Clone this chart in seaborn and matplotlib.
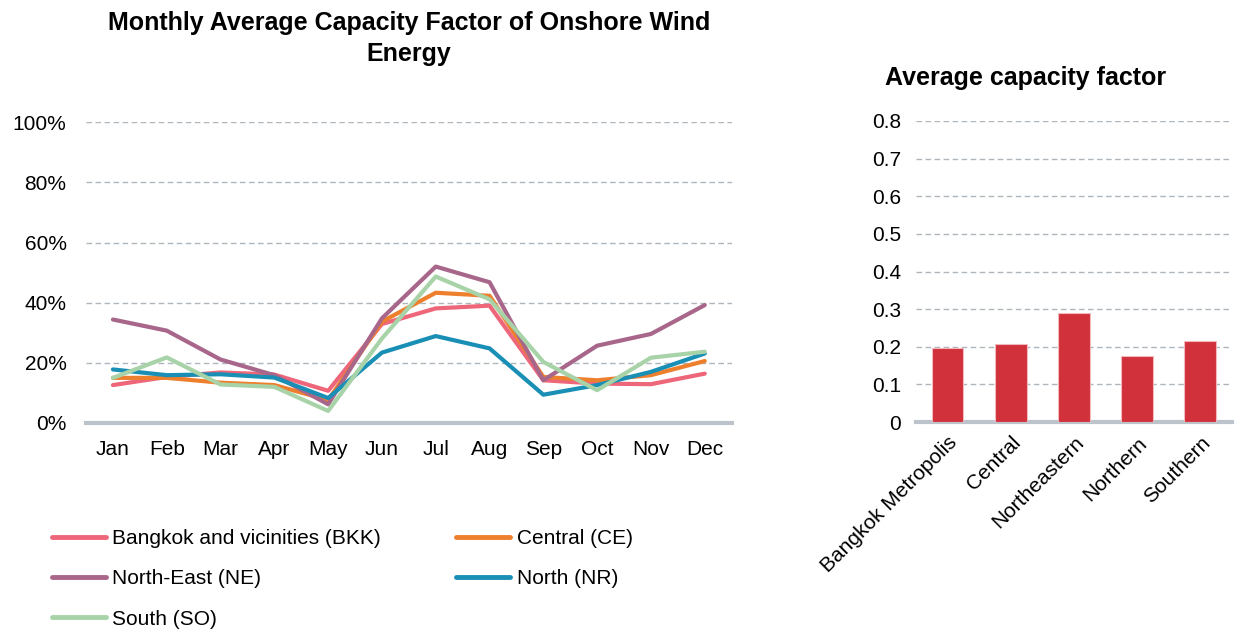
import numpy as np
import pandas as pd
import matplotlib.pyplot as plt
import seaborn as sns

months = ["Jan", "Feb", "Mar", "Apr", "May", "Jun", "Jul", "Aug", "Sep", "Oct", "Nov", "Dec"]

# monthly capacity factor (%)
bkk = [12.6, 15.3, 16.8, 16.1, 10.7, 32.9, 38.1, 39.0, 14.2, 13.1, 12.9, 16.4]
ce = [15.0, 15.0, 13.4, 12.6, 7.6, 33.7, 43.3, 42.3, 15.3, 14.2, 15.9, 20.6]
ne = [34.4, 30.7, 21.1, 15.9, 6.2, 34.8, 52.0, 46.8, 14.2, 25.7, 29.6, 39.2]
nr = [17.8, 15.9, 16.2, 15.1, 8.3, 23.4, 28.9, 24.8, 9.4, 12.6, 17.0, 23.1]
so = [15.0, 21.8, 12.8, 12.0, 4.0, 28.1, 48.7, 41.1, 20.3, 10.9, 21.7, 23.7]

series_names = ["Bangkok and vicinities (BKK)", "Central (CE)", "North-East (NE)", "North (NR)", "South (SO)"]
series_colors = ["#EE667A", "#EE7F2D", "#A8678A", "#1A8FB5", "#A8D3A8"]

regions = ["Bangkok Metropolis", "Central", "Northeastern", "Northern", "Southern"]
avg_cf = [0.198, 0.207, 0.291, 0.176, 0.215]

sns.set_style("white")
plt.rcParams['font.family'] = ['Liberation Sans', 'DejaVu Sans']
plt.rcParams['text.color'] = 'black'

df = pd.DataFrame({
    "month": months * 5,
    "value": np.concatenate([bkk, ce, ne, nr, so]) / 100,
    "region": np.repeat(series_names, 12),
})
df["m"] = np.tile(np.arange(12), 5)

fig = plt.figure(figsize=(12.38, 6.30), dpi=100)
ax1 = fig.add_axes([0.0695, 0.3286, 0.5215, 0.4774])
ax2 = fig.add_axes([0.740, 0.330, 0.255, 0.478])

grid_col = "#ADB5BD"
axis_col = "#BCC3CB"
fs = 15

# --- left: monthly lines
sns.lineplot(data=df, x="m", y="value", hue="region", hue_order=series_names,
             palette=series_colors, lw=3, ax=ax1, legend=False)
ax1.set_xlim(-0.5, 11.5)
ax1.set_ylim(0, 1.0)
ax1.set_xticks(range(12))
ax1.set_xticklabels(months)
ax1.set_yticks(np.arange(0, 1.01, 0.2))
ax1.set_yticklabels([f"{int(round(v*100))}%" for v in np.arange(0, 1.01, 0.2)])
ax1.set_xlabel("")
ax1.set_ylabel("")
for v in np.arange(0.2, 1.01, 0.2):
    ax1.axhline(v, color=grid_col, lw=1, ls=(0, (4, 2.5)), zorder=0)
ax1.set_title("Monthly Average Capacity Factor of Onshore Wind\nEnergy",
              fontsize=18, fontweight="bold", pad=44, color="black", linespacing=1.35)

# legend, row order BKK/CE, NE/NR, SO
order = [0, 2, 4, 1, 3]
handles = [plt.Line2D([], [], color=series_colors[i], lw=3.5) for i in order]
labels = [series_names[i] for i in order]
fig.legend(handles, labels, loc="upper left", bbox_to_anchor=(0.042, 0.16),
           ncol=2, frameon=False, fontsize=fs, handlelength=2.6,
           handletextpad=0.3, columnspacing=3.6, labelspacing=1.02,
           borderaxespad=0, borderpad=0)

# --- right: average bars
sns.barplot(x=regions, y=avg_cf, color="#D0313A", saturation=1, width=0.5, ax=ax2,
            edgecolor="#F2B8BC", linewidth=0.8, zorder=3)
ax2.set_xlim(-0.5, 4.5)
ax2.set_ylim(0, 0.8)
ax2.set_yticks(np.arange(0, 0.81, 0.1))
ax2.set_yticklabels(["0"] + [f"{v:.1f}" for v in np.arange(0.1, 0.81, 0.1)])
for v in np.arange(0.1, 0.81, 0.1):
    ax2.axhline(v, color=grid_col, lw=1, ls=(0, (4, 2.5)), zorder=0)
ax2.set_xticks(range(5))
ax2.set_xticklabels(regions, rotation=45, ha="right", rotation_mode="anchor")
fig.text(0.828, 0.876, "Average capacity factor", fontsize=18, fontweight="bold",
         ha="center", va="center")

for ax in (ax1, ax2):
    for s in ["top", "right", "left"]:
        ax.spines[s].set_visible(False)
    ax.spines["bottom"].set_color(axis_col)
    ax.spines["bottom"].set_linewidth(3)
    ax.tick_params(axis="both", length=0, labelsize=fs, colors="black")
ax1.tick_params(axis="y", pad=14)
ax1.tick_params(axis="x", pad=12)
ax2.tick_params(axis="y", pad=11)
ax2.tick_params(axis="x", pad=8)

fig.savefig("out.png", dpi=100)
